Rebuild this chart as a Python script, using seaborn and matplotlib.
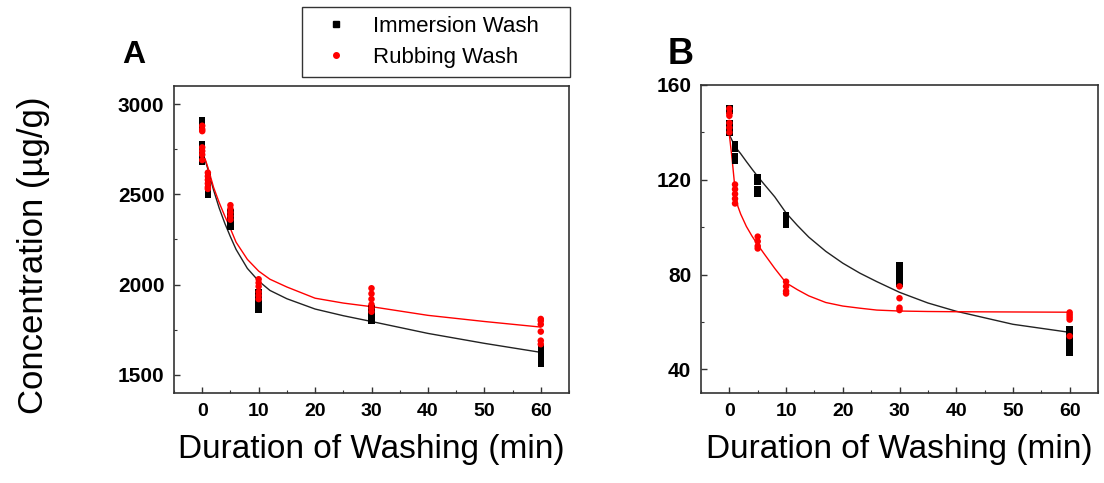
import matplotlib
matplotlib.use('Agg')
import matplotlib.pyplot as plt
from matplotlib.ticker import MultipleLocator
from matplotlib.lines import Line2D
import seaborn as sns
import pandas as pd

# wash durations (min)
times = [0, 1, 5, 10, 30, 60]

# panel A measured concentrations, one list per duration
a_immersion = [[2910, 2890, 2870, 2780, 2750, 2720, 2690, 2680],
               [2600, 2580, 2550, 2530, 2510, 2500],
               [2400, 2380, 2350, 2330, 2320],
               [1960, 1940, 1920, 1900, 1880, 1860],
               [1870, 1850, 1820, 1800],
               [1650, 1620, 1600, 1580, 1560]]
a_rubbing = [[2880, 2860, 2850, 2760, 2740, 2720, 2690],
             [2620, 2600, 2580, 2560, 2540, 2530],
             [2440, 2420, 2400, 2380, 2360],
             [2030, 2010, 1990, 1960, 1940, 1920],
             [1980, 1950, 1920, 1890, 1870, 1850],
             [1810, 1800, 1780, 1740, 1690, 1670]]

# panel B measured concentrations
b_immersion = [[150, 149, 144, 142, 140],
               [135, 133, 130, 128],
               [121, 119, 116, 114],
               [105, 103, 101],
               [84, 82, 80, 78, 76],
               [57, 55, 53, 50, 47]]
b_rubbing = [[150, 148, 147, 144, 142, 140],
             [118, 116, 114, 112, 110],
             [96, 94, 92, 91],
             [77, 75, 73, 72],
             [75, 70, 66, 65],
             [64, 63, 62, 61, 54]]

# fitted curves
a_fit_t = [0, 0.5, 1, 2, 3, 4, 5, 6, 8, 10, 12, 15, 20, 25, 30, 40, 50, 60]
a_fit_immersion = [2715, 2692, 2640, 2525, 2425, 2340, 2265, 2195, 2090, 2020,
                   1968, 1922, 1865, 1828, 1796, 1730, 1675, 1625]
a_fit_rubbing = [2720, 2697, 2650, 2540, 2455, 2380, 2310, 2235, 2140, 2075,
                 2030, 1987, 1925, 1898, 1878, 1830, 1796, 1765]

b_fit_t = [0, 0.5, 1, 1.5, 2, 3, 4, 5, 6, 8, 10, 12, 14, 17, 20, 23, 26, 30, 35, 40, 50, 60]
b_fit_immersion = [139, 136.5, 134, 132.5, 131, 127.7, 124.5, 121.4, 118.5, 112.8, 106,
                   100.7, 95.8, 89.8, 84.8, 80.6, 77, 72.5, 68, 64.5, 59, 55.6]
b_fit_rubbing = [139, 128.4, 116, 108.8, 105.5, 100.3, 96.2, 92.6, 89.2, 82.6, 76.5,
                 73.6, 71, 68.2, 66.7, 65.8, 65, 64.6, 64.4, 64.3, 64.2, 64.1]

methods = ['Immersion Wash', 'Rubbing Wash']
colors = {'Immersion Wash': 'black', 'Rubbing Wash': 'red'}
markers = {'Immersion Wash': 's', 'Rubbing Wash': 'o'}


def long_form(imm, rub):
    rows = []
    for name, groups in zip(methods, [imm, rub]):
        for t, vals in zip(times, groups):
            for v in vals:
                rows.append((name, t, v))
    return pd.DataFrame(rows, columns=['method', 'time', 'conc'])


sns.set_style('ticks')
plt.rcParams['font.family'] = ['Liberation Sans', 'DejaVu Sans']
plt.rcParams['text.color'] = 'black'
plt.rcParams['axes.labelcolor'] = 'black'
plt.rcParams['xtick.color'] = 'black'
plt.rcParams['ytick.color'] = 'black'

fig = plt.figure(figsize=(11.04, 4.83), dpi=100)
ax_a = fig.add_axes([174 / 1104, 90 / 483, 395 / 1104, 307 / 483])
ax_b = fig.add_axes([701 / 1104, 90 / 483, 397 / 1104, 308 / 483])

panels = [
    (ax_a, long_form(a_immersion, a_rubbing), a_fit_t, a_fit_immersion, a_fit_rubbing,
     (1400, 3100), 500, 250, 'A', 23, 134),
    (ax_b, long_form(b_immersion, b_rubbing), b_fit_t, b_fit_immersion, b_fit_rubbing,
     (30, 160), 40, 20, 'B', 26, 681),
]

for ax, df, ft, fi, fr, ylim, ymaj, ymin, letter, lsize, lx in panels:
    sns.scatterplot(data=df, x='time', y='conc', hue='method', style='method',
                    palette=colors, markers=markers, s=22, linewidth=0,
                    legend=False, ax=ax, zorder=3)
    sns.lineplot(x=ft, y=fi, color='#222222', lw=1.0, estimator=None, ax=ax, zorder=2)
    sns.lineplot(x=ft, y=fr, color='red', lw=1.0, estimator=None, ax=ax, zorder=2)

    ax.set_xlim(-5, 65)
    ax.set_ylim(*ylim)
    ax.xaxis.set_major_locator(MultipleLocator(10))
    ax.xaxis.set_minor_locator(MultipleLocator(5))
    ax.yaxis.set_major_locator(MultipleLocator(ymaj))
    ax.yaxis.set_minor_locator(MultipleLocator(ymin))
    ax.tick_params(which='major', direction='in', length=4, width=1, color='#333333')
    ax.tick_params(which='minor', direction='in', length=2.5, width=0.8, color='#333333')
    ax.tick_params(axis='x', labelsize=14, pad=7, labelcolor='black')
    ax.tick_params(axis='y', labelsize=15, pad=7, labelcolor='black')
    for lab in ax.get_xticklabels() + ax.get_yticklabels():
        lab.set_fontweight('bold')
    for sp in ax.spines.values():
        sp.set_color('#333333')
        sp.set_linewidth(1.2)
    ax.set_ylabel('')
    ax.set_xlabel('Duration of Washing (min)', fontsize=24, labelpad=10, color='black')
    fig.text(lx / 1104, 1 - 55 / 483, letter, fontsize=lsize, fontweight='bold',
             ha='center', va='center', color='black')

fig.text(34 / 1104, 1 - 255 / 483, 'Concentration (\u00b5g/g)', fontsize=25,
         rotation=90, ha='center', va='center', color='black')

handles = [Line2D([], [], ls='', marker='s', color='black', markersize=4),
           Line2D([], [], ls='', marker='o', color='red', markersize=4)]
leg = fig.legend(handles, methods, loc='upper left',
                 bbox_to_anchor=(302 / 1104, 1 - 78 / 483, 268 / 1104, 71 / 483),
                 mode='expand', fontsize=16, frameon=True, fancybox=False,
                 edgecolor='#333333', framealpha=1, borderpad=0.4, labelspacing=0.45,
                 handlelength=2.3, handletextpad=0.5, borderaxespad=0)
for txt in leg.get_texts():
    txt.set_color('black')

fig.savefig('out.png', dpi=100)
